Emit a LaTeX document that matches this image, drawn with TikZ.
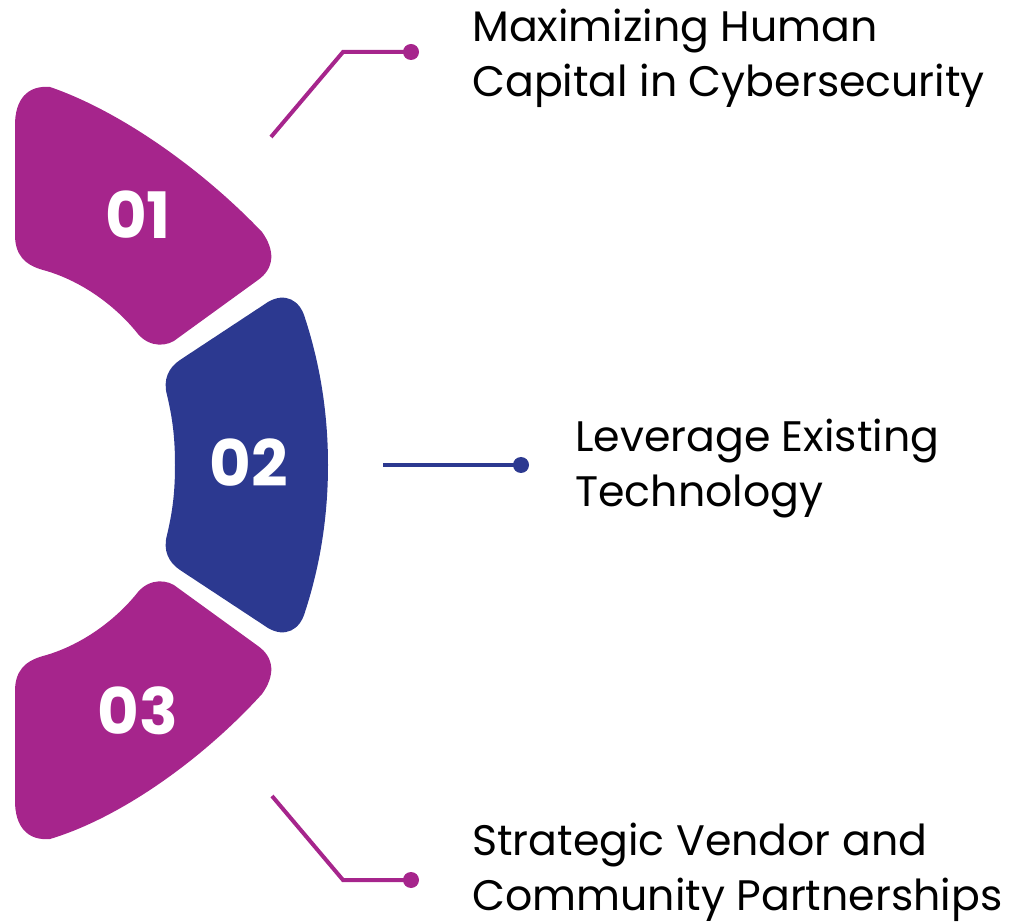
\documentclass[tikz,border=0pt]{standalone}
\usepackage{fontspec}
\setmainfont{Poppins}
\usetikzlibrary{positioning}
\definecolor{plum}{HTML}{A6258C}
\definecolor{navy}{HTML}{2C3990}

\begin{document}
\begin{tikzpicture}[x=0.75pt, y=-0.75pt,
  num/.style={text=white, font=\fontsize{48}{48}\selectfont\bfseries, inner sep=0pt},
  lbl/.style={anchor=base west, align=left, inner sep=0pt, font=\fontsize{32}{41.25}\selectfont},
  link/.style={line width=3pt, line join=miter},
  dot/.style={circle, fill, inner sep=0pt, minimum size=12pt}]
\useasboundingbox (0,0) rectangle (1011,923);
% three ring pieces
\fill[plum] (15,125) .. controls (15,100) and (27,85) .. (50,87) .. controls (120,111) and (202,169) .. (262,232)
  .. controls (275,250) and (275,268) .. (258,280) -- (178,338) .. controls (168,347) and (150,348) .. (138,334)
  .. controls (115,305) and (80,280) .. (43,270) .. controls (25,265) and (15,255) .. (15,235) -- cycle;
\fill[navy] (180,360) -- (268,302) .. controls (285,292) and (300,300) .. (305,318)
  .. controls (322,370) and (328,420) .. (328,465) .. controls (328,510) and (322,560) .. (305,612)
  .. controls (300,630) and (285,638) .. (268,628) -- (180,570) .. controls (168,562) and (163,550) .. (167,535)
  .. controls (173,510) and (175,490) .. (175,465) .. controls (175,440) and (173,420) .. (167,395)
  .. controls (163,380) and (168,368) .. (180,360) -- cycle;
\fill[plum] (15,801) .. controls (15,826) and (27,841) .. (50,839) .. controls (120,818) and (202,760) .. (262,694)
  .. controls (275,676) and (275,658) .. (258,646) -- (178,588) .. controls (168,579) and (150,578) .. (138,592)
  .. controls (115,621) and (80,646) .. (43,656) .. controls (25,661) and (15,671) .. (15,691) -- cycle;
\node[num] (n1) at (138,215) {01};
\node[num] (n2) at (249,463) {02};
\node[num] (n3) at (138,711) {03};
% leader lines
\node[dot, plum] (d1) at (411,52) {}; \coordinate (s1) at (271,137); \coordinate (k1) at (343,52);
\node[dot, navy] (d2) at (521,465) {}; \coordinate (s2) at (383,465);
\node[dot, plum] (d3) at (411,880) {}; \coordinate (s3) at (272,796); \coordinate (k3) at (343,880);
\draw[link, plum] (s1) -- (k1) -- (d1.center);
\draw[link, navy] (s2) -- (d2.center);
\draw[link, plum] (s3) -- (k3) -- (d3.center);
\node[lbl] (t1) at (472,97) {Maximizing Human\\Capital in Cybersecurity};
\node[lbl] (t2) at (575,507) {Leverage Existing\\Technology};
\node[lbl] (t3) at (472,910) {Strategic Vendor and\\Community Partnerships};
\end{tikzpicture}
\end{document}
